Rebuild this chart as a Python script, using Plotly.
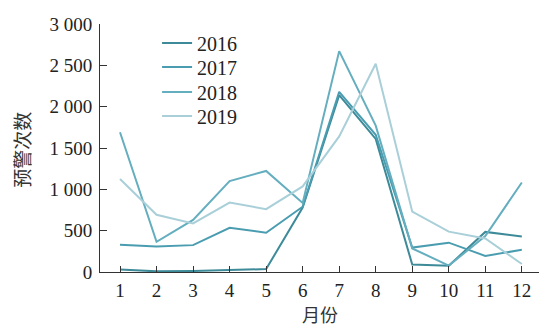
import plotly.graph_objects as go

months = list(range(1, 13))
month_labels = [str(m) for m in months]
years = ["2016", "2017", "2018", "2019"]
v2016 = [30, 8, 12, 20, 35, 780, 2140, 1610, 90, 75, 485, 430]
v2017 = [330, 308, 325, 535, 475, 790, 2180, 1660, 295, 355, 195, 268]
v2018 = [1690, 365, 630, 1100, 1222, 835, 2672, 1770, 285, 78, 435, 1082]
v2019 = [1125, 692, 588, 840, 760, 1035, 1640, 2520, 730, 488, 405, 97]
series = [v2016, v2017, v2018, v2019]
colors = ["#3d8a99", "#4a9db0", "#64aebf", "#a9cfd9"]

y_ticks = [0, 500, 1000, 1500, 2000, 2500, 3000]
y_ticktext = ["0", "500", "1 000", "1 500", "2 000", "2 500", "3 000"]

FONT = "Liberation Serif"
CJK = "Noto Sans CJK SC"

legend_ids = ["legend", "legend2", "legend3", "legend4"]
legend_rows_y = [0.923, 0.827, 0.726, 0.629]

fig = go.Figure()
for name, vals, col, lid in zip(years, series, colors, legend_ids):
    fig.add_trace(go.Scatter(x=months, y=vals, mode="lines", name=name,
                             line=dict(color=col, width=2), legend=lid))

legend_layout = {}
for lid, ly in zip(legend_ids, legend_rows_y):
    legend_layout[lid] = dict(x=0.13, y=ly, xanchor="left", yanchor="middle",
                              font=dict(family=FONT, size=20, color="#222"),
                              bgcolor="rgba(0,0,0,0)", itemwidth=30)

fig.update_layout(
    width=539, height=326,
    margin=dict(l=100, r=0, t=24, b=54),
    plot_bgcolor="white", paper_bgcolor="white",
    showlegend=True,
    xaxis=dict(range=[0.452, 12.47], tickvals=months, ticktext=month_labels,
               ticks="inside", ticklen=6, tickcolor="#333", tickwidth=1,
               showline=True, linecolor="#333", linewidth=1,
               showgrid=False, zeroline=False, ticklabelstandoff=1,
               tickfont=dict(family=FONT, size=19, color="#222")),
    yaxis=dict(range=[0, 3000], tickvals=y_ticks, ticktext=y_ticktext,
               ticks="inside", ticklen=7, tickcolor="#333", tickwidth=1,
               showline=True, linecolor="#333", linewidth=1,
               showgrid=False, zeroline=False, ticklabelstandoff=3,
               tickfont=dict(family=FONT, size=19, color="#222")),
    annotations=[
        dict(text="月份", xref="paper", yref="paper", x=0.501, y=-0.17,
             showarrow=False, xanchor="center", yanchor="middle",
             font=dict(family=CJK, size=18, color="#333")),
        dict(text="预警次数", xref="paper", yref="paper", x=-0.178, y=0.492,
             showarrow=False, xanchor="center", yanchor="middle", textangle=-90,
             font=dict(family=CJK, size=19, color="#333")),
    ],
    **legend_layout,
)

fig.write_html("out.html")
